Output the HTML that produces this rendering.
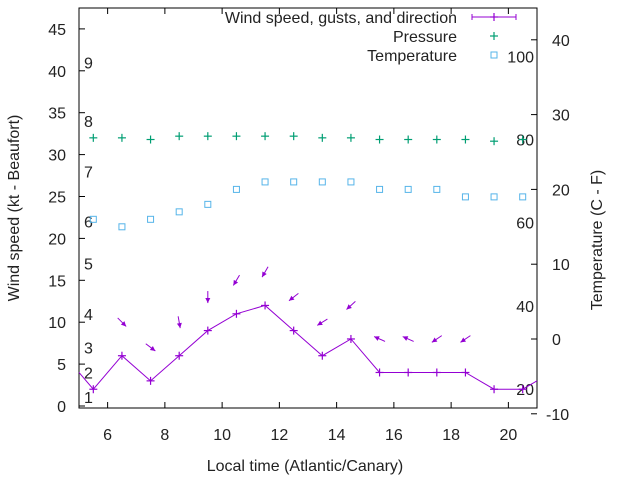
<!DOCTYPE html>
<html><head><meta charset="utf-8"><style>
html,body{margin:0;padding:0;background:#fff}
svg text{font-family:"Liberation Sans",sans-serif;font-size:16px;fill:#222}
</style></head><body>
<svg id="c" width="640" height="480" xmlns="http://www.w3.org/2000/svg"></svg>
<script>
const hours=[5.5,6.5,7.5,8.5,9.5,10.5,11.5,12.5,13.5,14.5,15.5,16.5,17.5,18.5,19.5,20.5];
const windSpeed=[2,6,3,6,9,11,12,9,6,8,4,4,4,4,2,2];
const windBearing=[null,135,127,170,180,211,210,232,238,228,294,294,236,236,null,null];
const pressure=[32,32,31.8,32.2,32.2,32.2,32.2,32.2,32,32,31.8,31.8,31.8,31.8,31.6,31.8];
const tempC=[16,15,16,17,18,20,21,21,21,21,20,20,20,19,19,19];
const xTicks=[6,8,10,12,14,16,18,20];
const yTicks=[0,5,10,15,20,25,30,35,40,45];
const y2Ticks=[-10,0,10,20,30,40];
const beaufort=[1,2,3,4,5,6,7,8,9];
const beaufortY=[1.1,4,7,11,17,22,28,34,41];
const fahr=[20,40,60,80,100];
const L=79,R=537,T=8,B=408;
const X=v=>L+(v-5)*(R-L)/16;
const Y=v=>406-8.38*v;
const Y2=c=>339-7.48*c;
const svg=document.getElementById('c');
const NS='http://www.w3.org/2000/svg';
function mk(tag,at,name,parent){const e=document.createElementNS(NS,tag);for(const k in at)e.setAttribute(k,at[k]);


(parent||svg).appendChild(e);return e;}
function txt(x,y,s,name,anchor,extra){const t=mk('text',Object.assign({x:x,y:y,'text-anchor':anchor||'start'},extra||{}),name);t.textContent=s;return t;}
mk('rect',{x:L,y:T,width:R-L,height:B-T,fill:'none',stroke:'#000','stroke-width':1},'plot-frame');
xTicks.forEach(v=>{const x=X(v);
mk('line',{x1:x,y1:B,x2:x,y2:B-6,stroke:'#000'},'x-tick');
mk('line',{x1:x,y1:T,x2:x,y2:T+6,stroke:'#000'},'x-tick-top');
txt(x,440,v,'x-tick-label','middle');});
yTicks.forEach(v=>{const y=Y(v);
mk('line',{x1:L,y1:y,x2:L+6,y2:y,stroke:'#000'},'y-tick');
txt(66,y+6,v,'y-tick-label','end');});
y2Ticks.forEach(v=>{const y=Y2(v);
mk('line',{x1:R,y1:y,x2:R-6,y2:y,stroke:'#000'},'y2-tick');
txt(v<0?546:552,y+6,v,'y2-tick-label','start');});
beaufort.forEach((b,i)=>txt(84,Y(beaufortY[i])+6,b,'beaufort-label','start'));
fahr.forEach(f=>txt(534,Y2((f-32)*5/9)+6,f,'fahrenheit-label','end'));
txt(305,471,'Local time (Atlantic/Canary)','x-axis-title','middle');
txt(0,0,'Wind speed (kt - Beaufort)','y-axis-title','middle',{transform:'translate(19,208) rotate(-90)'});
txt(0,0,'Temperature (C - F)','y2-axis-title','middle',{transform:'translate(602,240) rotate(-90)'});
const col='#9400d3';
let pts=[[5,4]].concat(hours.map((h,i)=>[h,windSpeed[i]])).concat([[21,3]]);
mk('polyline',{points:pts.map(p=>X(p[0])+','+Y(p[1])).join(' '),fill:'none',stroke:col,'stroke-width':1},'wind-speed-line');
function plus(x,y,c,name){const g=mk('g',{},name);
mk('line',{x1:x-4,y1:y,x2:x+4,y2:y,stroke:c,'stroke-width':1.2},'marker-h',g);
mk('line',{x1:x,y1:y-4,x2:x,y2:y+4,stroke:c,'stroke-width':1.2},'marker-v',g);}
hours.forEach((h,i)=>plus(X(h),Y(windSpeed[i]),col,'wind-point'));
hours.forEach((h,i)=>{const b=windBearing[i];if(b==null)return;
const cx=X(h),cy=Y(windSpeed[i]+4),r=b*Math.PI/180,dx=Math.sin(r),dy=-Math.cos(r),len=12;
const x1=cx-dx*len/2,y1=cy-dy*len/2,x2=cx+dx*len/2,y2=cy+dy*len/2;
mk('line',{x1:x1,y1:y1,x2:x2,y2:y2,stroke:col,'stroke-width':1},'wind-arrow-shaft');
const px=-dy,py=dx,hx=x2-dx*5,hy=y2-dy*5;
mk('polygon',{points:`${x2},${y2} ${hx+px*2.5},${hy+py*2.5} ${hx-px*2.5},${hy-py*2.5}`,fill:col},'wind-arrow-head');});
hours.forEach((h,i)=>plus(X(h),Y(pressure[i]),'#009e73','pressure-point'));
hours.forEach((h,i)=>mk('rect',{x:X(h)-3,y:Y2(tempC[i])-3,width:6,height:6,fill:'none',stroke:'#56b4e9'},'temperature-point'));
txt(457,23,'Wind speed, gusts, and direction','legend-wind-label','end');
txt(457,42,'Pressure','legend-pressure-label','end');
txt(457,61,'Temperature','legend-temperature-label','end');
mk('line',{x1:472,y1:17,x2:516,y2:17,stroke:col},'legend-wind-line');
mk('line',{x1:472,y1:14,x2:472,y2:20,stroke:col},'legend-wind-cap');
mk('line',{x1:516,y1:14,x2:516,y2:20,stroke:col},'legend-wind-cap');
plus(494,17,col,'legend-wind-marker');
plus(494,36,'#009e73','legend-pressure-marker');
mk('rect',{x:491,y:52,width:6,height:6,fill:'none',stroke:'#56b4e9'},'legend-temperature-marker');
</script>
</body></html>
